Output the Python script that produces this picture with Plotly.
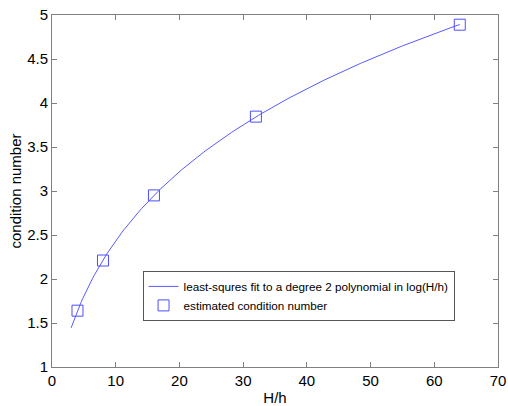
import numpy as np
import plotly.graph_objects as go

# data
H_over_h = [4, 8, 16, 32, 64]
cond_est = [1.64, 2.21, 2.95, 3.845, 4.89]
fit_range = [3, 64]

# least-squares fit to degree 2 polynomial in log(H/h)
coef = np.polyfit(np.log(H_over_h), cond_est, 2)
xf = np.linspace(fit_range[0], fit_range[1], 200)
yf = np.polyval(coef, np.log(xf))

FONT = "Liberation Sans, Arial, sans-serif"

fig = go.Figure()
fig.add_trace(go.Scatter(
    x=xf, y=yf, mode="lines",
    line=dict(color="#5a5aff", width=1),
    name="least-squres fit to a degree 2 polynomial in log(H/h)",
))
fig.add_trace(go.Scatter(
    x=H_over_h, y=cond_est, mode="markers",
    marker=dict(symbol="square-open", size=11, color="#4d4dff", line=dict(width=1)),
    name="estimated condition number",
))

axis_common = dict(
    showline=True, linecolor="#808080", linewidth=1, mirror="ticks",
    ticks="inside", ticklen=5, tickcolor="#808080",
    showgrid=False, zeroline=False, automargin=False,
    ticklabeloverflow="allow",
    tickfont=dict(family=FONT, size=15, color="#000"),
)
fig.update_xaxes(range=[0, 70], dtick=10, title=dict(text="H/h", standoff=9,
                 font=dict(family=FONT, size=15, color="#000")),
                 **axis_common)
fig.update_yaxes(range=[1, 5], dtick=0.5, title=dict(text="condition number", standoff=1,
                 font=dict(family=FONT, size=15, color="#000")),
                 **axis_common)

fig.update_layout(
    width=508, height=406,
    margin=dict(l=52, r=10, t=15, b=39),
    plot_bgcolor="white", paper_bgcolor="white",
    legend=dict(
        x=0.203, y=0.273, xanchor="left", yanchor="top",
        bgcolor="white", bordercolor="#555555", borderwidth=1,
        font=dict(family=FONT, size=11.7, color="#000"),
        tracegroupgap=0, itemwidth=30,
    ),
)
fig.write_html(
    "out.html",
    config={"displayModeBar": False},
    post_script="document.body.style.margin='0';document.body.style.overflow='hidden';",
)
